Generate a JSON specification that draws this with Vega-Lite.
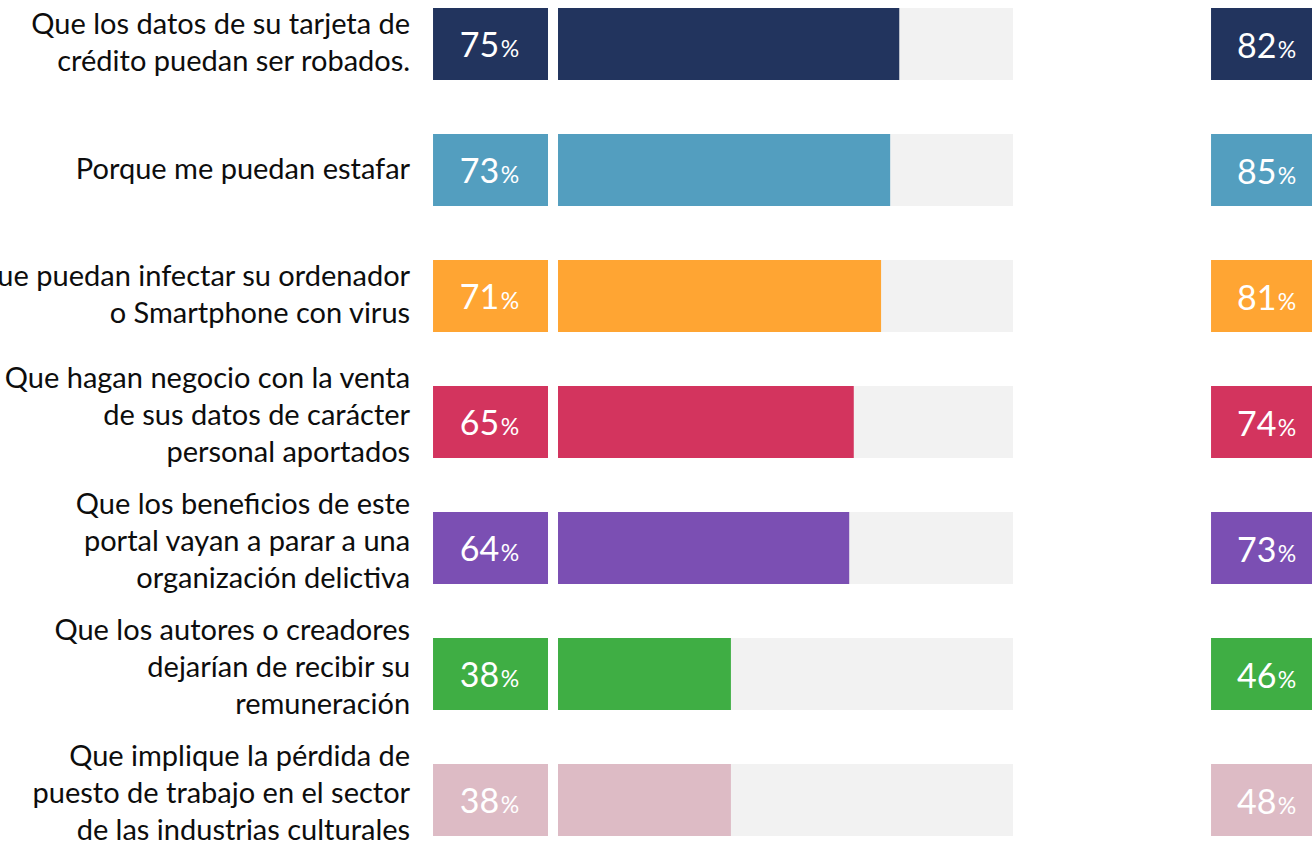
{
  "$schema": "https://vega.github.io/schema/vega-lite/v6.json",
  "width": 1312,
  "height": 828,
  "autosize": {"type": "none"},
  "padding": {"top": 8, "bottom": 5, "left": 0, "right": 0},
  "background": "white",
  "config": {"view": {"stroke": null}, "font": "Lato"},
  "data": {
    "values": [
      {"item": "A", "label": ["Que los datos de su tarjeta de", "crédito puedan ser robados."], "v1": 75, "v2": 82, "pct": "%"},
      {"item": "B", "label": ["Porque me puedan estafar"], "v1": 73, "v2": 85, "pct": "%"},
      {"item": "C", "label": ["Que puedan infectar su ordenador", "o Smartphone con virus"], "v1": 71, "v2": 81, "pct": "%"},
      {"item": "D", "label": ["Que hagan negocio con la venta", "de sus datos de carácter", "personal aportados"], "v1": 65, "v2": 74, "pct": "%"},
      {"item": "E", "label": ["Que los beneficios de este", "portal vayan a parar a una", "organización delictiva"], "v1": 64, "v2": 73, "pct": "%"},
      {"item": "F", "label": ["Que los autores o creadores", "dejarían de recibir su", "remuneración"], "v1": 38, "v2": 46, "pct": "%"},
      {"item": "G", "label": ["Que implique la pérdida de", "puesto de trabajo en el sector", "de las industrias culturales"], "v1": 38, "v2": 48, "pct": "%"}
    ]
  },
  "encoding": {
    "y": {"field": "item", "type": "nominal", "sort": null, "axis": null,
          "scale": {"paddingInner": 0.4286, "paddingOuter": 0}}
  },
  "layer": [
    {
      "mark": {"type": "rect", "color": "#F2F2F2"},
      "encoding": {
        "x": {"datum": 0, "type": "quantitative", "axis": null,
              "scale": {"domain": [-122.64, 165.71], "nice": false, "zero": false}},
        "x2": {"datum": 100}
      }
    },
    {
      "mark": {"type": "rect"},
      "encoding": {
        "x": {"field": "v1", "type": "quantitative", "axis": null},
        "x2": {"datum": 0},
        "color": {"field": "item", "type": "nominal", "legend": null,
                  "scale": {"domain": ["A","B","C","D","E","F","G"],
                            "range": ["#22345E", "#539EBF", "#FFA533", "#D3345E", "#7B4FB3", "#3FAE44", "#DDBBC5"]}}
      }
    },
    {
      "mark": {"type": "rect"},
      "encoding": {
        "x": {"datum": -27.47, "type": "quantitative", "axis": null},
        "x2": {"datum": -2.2},
        "color": {"field": "item", "type": "nominal", "legend": null}
      }
    },
    {
      "mark": {"type": "rect"},
      "encoding": {
        "x": {"datum": 143.52, "type": "quantitative", "axis": null},
        "x2": {"datum": 170},
        "color": {"field": "item", "type": "nominal", "legend": null}
      }
    },
    {
      "mark": {"type": "text", "align": "right", "baseline": "alphabetic", "dy": 13, "fontSize": 34, "color": "white"},
      "encoding": {
        "x": {"datum": -12.9, "type": "quantitative", "axis": null},
        "text": {"field": "v1", "type": "quantitative"}
      }
    },
    {
      "mark": {"type": "text", "align": "left", "baseline": "alphabetic", "dy": 13, "fontSize": 23, "color": "white"},
      "encoding": {
        "x": {"datum": -12.6, "type": "quantitative", "axis": null},
        "text": {"field": "pct", "type": "nominal"}
      }
    },
    {
      "mark": {"type": "text", "align": "right", "baseline": "alphabetic", "dy": 14, "fontSize": 34, "color": "white"},
      "encoding": {
        "x": {"datum": 157.9, "type": "quantitative", "axis": null},
        "text": {"field": "v2", "type": "quantitative"}
      }
    },
    {
      "mark": {"type": "text", "align": "left", "baseline": "alphabetic", "dy": 14, "fontSize": 23, "color": "white"},
      "encoding": {
        "x": {"datum": 158.2, "type": "quantitative", "axis": null},
        "text": {"field": "pct", "type": "nominal"}
      }
    },
    {
      "transform": [{"filter": "length(datum.label) == 1"}],
      "mark": {"type": "text", "align": "right", "baseline": "middle", "fontSize": 29, "lineHeight": 37, "color": "#0D0D0D", "dy": 0},
      "encoding": {
        "x": {"datum": -32.5, "type": "quantitative", "axis": null},
        "text": {"field": "label", "type": "nominal"}
      }
    },
    {
      "transform": [{"filter": "length(datum.label) == 2"}],
      "mark": {"type": "text", "align": "right", "baseline": "middle", "fontSize": 29, "lineHeight": 37, "color": "#0D0D0D", "dy": -19},
      "encoding": {
        "x": {"datum": -32.5, "type": "quantitative", "axis": null},
        "text": {"field": "label", "type": "nominal"}
      }
    },
    {
      "transform": [{"filter": "length(datum.label) == 3"}],
      "mark": {"type": "text", "align": "right", "baseline": "middle", "fontSize": 29, "lineHeight": 37, "color": "#0D0D0D", "dy": -43},
      "encoding": {
        "x": {"datum": -32.5, "type": "quantitative", "axis": null},
        "text": {"field": "label", "type": "nominal"}
      }
    }
  ]
}
